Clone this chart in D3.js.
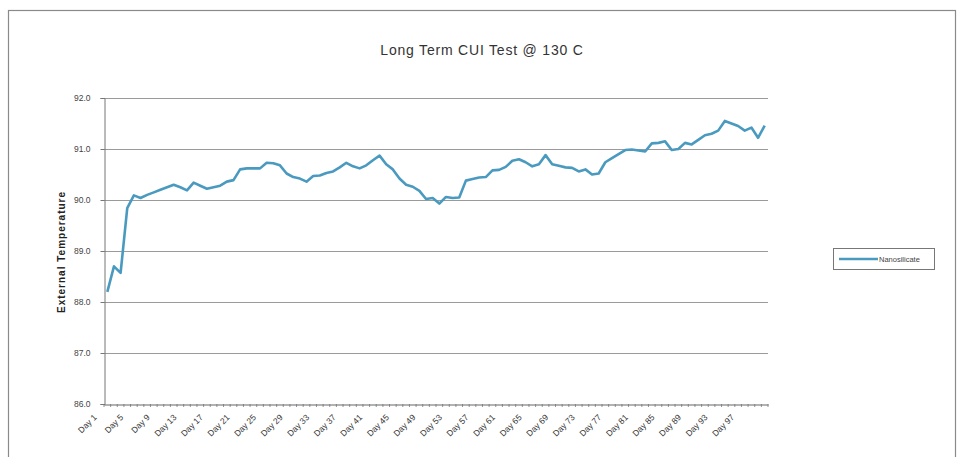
<!DOCTYPE html>
<html><head><meta charset="utf-8">
<script src="https://cdn.jsdelivr.net/npm/d3@7"></script>
<style>
html,body{margin:0;padding:0;background:#fff;}
svg{display:block;font-family:"Liberation Sans",Arial,sans-serif;}
</style></head>
<body>
<svg id="chart" width="962" height="457"></svg>
<script>
// ---- data ----
const title = "Long Term CUI Test @ 130 C";
const yTitle = "External Temperature";
const seriesName = "Nanosilicate";
const days = Array.from({length: 100}, (_, i) => "Day " + (i + 1));
const temps = [
  88.20, 88.70, 88.57, 89.84, 90.09, 90.04, 90.10, 90.15, 90.20, 90.25,
  90.30, 90.25, 90.19, 90.34, 90.28, 90.22, 90.25, 90.28, 90.36, 90.39,
  90.60, 90.62, 90.62, 90.62, 90.73, 90.72, 90.68, 90.52, 90.45, 90.42,
  90.36, 90.47, 90.48, 90.53, 90.56, 90.64, 90.73, 90.66, 90.62, 90.68,
  90.78, 90.87, 90.70, 90.60, 90.42, 90.30, 90.26, 90.18, 90.02, 90.04,
  89.93, 90.06, 90.04, 90.05, 90.38, 90.41, 90.44, 90.45, 90.58, 90.59,
  90.65, 90.77, 90.80, 90.74, 90.66, 90.70, 90.88, 90.70, 90.67, 90.64,
  90.63, 90.56, 90.60, 90.50, 90.52, 90.74, 90.82, 90.90, 90.98, 90.99,
  90.97, 90.95, 91.11, 91.12, 91.15, 90.98, 91.00, 91.12, 91.09, 91.18,
  91.27, 91.30, 91.36, 91.55, 91.50, 91.45, 91.36, 91.42, 91.22, 91.46
];
const xTickLabels = ["Day 1","Day 5","Day 9","Day 13","Day 17","Day 21","Day 25","Day 29","Day 33",
  "Day 37","Day 41","Day 45","Day 49","Day 53","Day 57","Day 61","Day 65","Day 69","Day 73",
  "Day 77","Day 81","Day 85","Day 89","Day 93","Day 97"];
const yTicks = [86, 87, 88, 89, 90, 91, 92];

// ---- layout ----
const svg = d3.select("#chart");
const L = 104, R = 768, T = 98, B = 404;

// outer frame
svg.append("rect").attr("x", 8.5).attr("y", 10.5).attr("width", 947).attr("height", 470)
  .attr("fill", "none").attr("stroke", "#8a8a8a").attr("stroke-width", 1.2);

const x = d3.scaleBand().domain(days).range([L, R]);
const y = d3.scaleLinear().domain([86, 92]).range([B, T]);

// gridlines
svg.append("g").selectAll("line").data(yTicks.filter(d => d !== 86)).join("line")
  .attr("x1", L).attr("x2", R).attr("y1", d => y(d) + 0.5).attr("y2", d => y(d) + 0.5)
  .attr("stroke", "#9a9a9a").attr("stroke-width", 1);

// y axis
const yAxis = d3.axisLeft(y).tickValues(yTicks).tickFormat(d3.format(".1f")).tickSize(4).tickPadding(10);
const gy = svg.append("g").attr("transform", `translate(${L + 0.5},0)`).call(yAxis);
gy.select(".domain").attr("stroke", "#777");
gy.selectAll(".tick line").attr("stroke", "#777");
gy.selectAll(".tick text").attr("font-size", 8.5).attr("fill", "#444")
  .attr("font-family", "Liberation Sans, Arial, sans-serif");

// x axis
const xAxis = d3.axisBottom(x).tickSize(0).tickFormat("");
const gx = svg.append("g").attr("transform", `translate(0,${B + 0.5})`).call(xAxis);
gx.select(".domain").attr("stroke", "#666").attr("stroke-width", 1.2);
// category boundary ticks
svg.append("g").selectAll("line").data(days.concat(["__end"])).join("line")
  .attr("x1", (d, i) => i < days.length ? x(d) : R).attr("x2", (d, i) => i < days.length ? x(d) : R)
  .attr("y1", B).attr("y2", B + 3).attr("stroke", "#777").attr("stroke-width", 0.8);
// x labels
svg.append("g").selectAll("text").data(xTickLabels).join("text")
  .attr("transform", d => `translate(${x(d) + x.bandwidth() / 2 - 10},${B + 14}) rotate(-45)`)
  .attr("text-anchor", "end").attr("font-size", 8.5).attr("fill", "#333")
  .text(d => d);

// y title
svg.append("text").attr("transform", `translate(65,${(T + B) / 2 + 1}) rotate(-90)`)
  .attr("text-anchor", "middle").attr("font-size", 10).attr("font-weight", "bold")
  .attr("letter-spacing", 1).attr("fill", "#222").text(yTitle);

// title
svg.append("text").attr("x", 482).attr("y", 55).attr("text-anchor", "middle")
  .attr("font-size", 14).attr("letter-spacing", 0.8).attr("fill", "#333").text(title);

// line
const line = d3.line().x((d, i) => x(days[i]) + x.bandwidth() / 2).y(d => y(d));
svg.append("path").datum(temps).attr("d", line).attr("fill", "none")
  .attr("stroke", "#4a9ac0").attr("stroke-width", 2.6).attr("stroke-linejoin", "round");

// legend
const lg = svg.append("g");
lg.append("rect").attr("x", 833.5).attr("y", 248.5).attr("width", 101).attr("height", 21)
  .attr("fill", "#fff").attr("stroke", "#777").attr("stroke-width", 1);
lg.append("line").attr("x1", 839).attr("x2", 878).attr("y1", 259).attr("y2", 259)
  .attr("stroke", "#4a9ac0").attr("stroke-width", 2.4);
lg.append("text").attr("x", 879).attr("y", 262).attr("font-size", 7.5).attr("fill", "#444").text(seriesName);
</script>
</body></html>
